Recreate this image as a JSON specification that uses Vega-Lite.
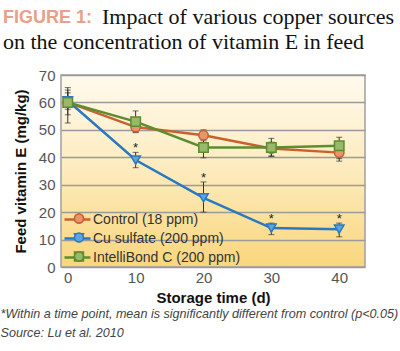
{
  "$schema": "https://vega.github.io/schema/vega-lite/v6.json",
  "autosize": "none",
  "width": 304,
  "height": 192,
  "padding": {"left": 61, "top": 75, "right": 35, "bottom": 84},
  "background": "white",
  "config": {
    "view": {
      "stroke": "#a0a0a0",
      "strokeWidth": 1.5,
      "fill": {"gradient": "linear", "x1": 0, "y1": 0, "x2": 0, "y2": 1,
        "stops": [{"offset": 0, "color": "#fffaee"}, {"offset": 0.5, "color": "#fdebbd"}, {"offset": 1, "color": "#f9d67c"}]}
    },
    "font": "Liberation Sans"
  },
  "title": {
    "text": "FIGURE 1:",
    "subtitle": ["\u200b\u00a0\u00a0\u00a0\u00a0\u00a0\u00a0\u00a0\u00a0\u00a0\u00a0\u00a0\u00a0\u00a0\u00a0\u00a0\u00a0\u00a0\u00a0Impact of various copper sources", "on the concentration of vitamin E in feed"],
    "anchor": "start",
    "frame": "group",
    "dx": -58,
    "offset": 12,
    "font": "Liberation Sans",
    "fontSize": 18,
    "fontWeight": "bold",
    "color": "#e8a088",
    "subtitleFont": "Liberation Serif",
    "subtitleFontSize": 22,
    "subtitleColor": "#111111",
    "subtitleLineHeight": 25,
    "subtitlePadding": -20
  },
  "data": {
    "values": [
      {"series": "Control (18 ppm)", "day": 0, "value": 60, "lo": 55.5, "hi": 64.5, "star": false},
      {"series": "Control (18 ppm)", "day": 10, "value": 51, "lo": 49, "hi": 53, "star": false},
      {"series": "Control (18 ppm)", "day": 20, "value": 48, "lo": 46, "hi": 50, "star": false},
      {"series": "Control (18 ppm)", "day": 30, "value": 43.2, "lo": 40.5, "hi": 45.5, "star": false},
      {"series": "Control (18 ppm)", "day": 40, "value": 41.7, "lo": 38.6, "hi": 44, "star": false},
      {"series": "Cu sulfate (200 ppm)", "day": 0, "value": 60.6, "lo": 57.5, "hi": 65.4, "star": false},
      {"series": "Cu sulfate (200 ppm)", "day": 10, "value": 39, "lo": 36.2, "hi": 41.8, "star": true},
      {"series": "Cu sulfate (200 ppm)", "day": 20, "value": 25.2, "lo": 20, "hi": 31, "star": true},
      {"series": "Cu sulfate (200 ppm)", "day": 30, "value": 14.2, "lo": 11.8, "hi": 16, "star": true},
      {"series": "Cu sulfate (200 ppm)", "day": 40, "value": 13.8, "lo": 11, "hi": 16, "star": true},
      {"series": "IntelliBond C (200 ppm)", "day": 0, "value": 60, "lo": 52.5, "hi": 63.5, "star": false},
      {"series": "IntelliBond C (200 ppm)", "day": 10, "value": 53, "lo": 49.2, "hi": 56.9, "star": false},
      {"series": "IntelliBond C (200 ppm)", "day": 20, "value": 43.6, "lo": 39.8, "hi": 47.2, "star": false},
      {"series": "IntelliBond C (200 ppm)", "day": 30, "value": 43.6, "lo": 40.3, "hi": 46.9, "star": false},
      {"series": "IntelliBond C (200 ppm)", "day": 40, "value": 44.2, "lo": 39.5, "hi": 47.3, "star": false}
    ]
  },
  "resolve": {"axis": {"x": "independent", "y": "independent"}},
  "layer": [
    {
      "mark": {"type": "line", "strokeWidth": 2.5},
      "encoding": {
        "x": {"field": "day", "type": "quantitative",
          "scale": {"domain": [-1, 43.8], "nice": false, "zero": false},
          "axis": {"values": [0, 10, 20, 30, 40], "grid": false, "ticks": false, "domain": false,
            "labelFontSize": 15, "labelColor": "#555555", "labelPadding": 3,
            "title": "Storage time (d)", "titleFontSize": 15, "titleFontWeight": "bold", "titleColor": "#111111", "titlePadding": 5}},
        "y": {"field": "value", "type": "quantitative",
          "scale": {"domain": [0, 70], "nice": false},
          "axis": {"values": [0, 10, 20, 30, 40, 50, 60, 70], "grid": true, "gridColor": "#9a9a9a", "gridWidth": 1.5, "gridOpacity": 1,
            "labelOverlap": false, "ticks": false, "domain": false, "labelFontSize": 15, "labelColor": "#555555", "labelPadding": 6,
            "title": "Feed vitamin E (mg/kg)", "titleFontSize": 15, "titleFontWeight": "bold", "titleColor": "#111111", "titlePadding": 10}},
        "color": {"field": "series", "type": "nominal",
          "scale": {"domain": ["Control (18 ppm)", "Cu sulfate (200 ppm)", "IntelliBond C (200 ppm)"], "range": ["#c9602e", "#2a78c0", "#5e8c2e"]},
          "legend": {"orient": "bottom-left", "offset": 2, "padding": 0, "title": null, "symbolType": "stroke", "symbolSize": 676,
            "symbolStrokeWidth": 2.5, "clipHeight": 15, "rowPadding": 4, "labelFontSize": 14, "labelColor": "#333333", "labelOffset": 1}}
      }
    },
    {
      "mark": {"type": "errorbar", "ticks": {"size": 6}, "color": "#333333", "thickness": 1},
      "encoding": {
        "x": {"field": "day", "type": "quantitative", "axis": null},
        "y": {"field": "lo", "type": "quantitative", "axis": null},
        "y2": {"field": "hi"}
      }
    },
    {
      "mark": {"type": "point", "filled": false, "size": 90, "strokeWidth": 1.5, "opacity": 1},
      "encoding": {
        "x": {"field": "day", "type": "quantitative", "axis": null},
        "y": {"field": "value", "type": "quantitative", "axis": null},
        "shape": {"field": "series", "type": "nominal",
          "scale": {"domain": ["Control (18 ppm)", "Cu sulfate (200 ppm)", "IntelliBond C (200 ppm)"], "range": ["circle", "triangle-down", "square"]},
          "legend": {"orient": "none", "legendX": 11, "legendY": 136, "padding": 0, "title": null, "symbolSize": 80, "clipHeight": 15, "rowPadding": 4,
            "labelExpr": "''", "labelOpacity": 0, "labelFontSize": 14}},
        "fill": {"field": "series", "type": "nominal",
          "scale": {"domain": ["Control (18 ppm)", "Cu sulfate (200 ppm)", "IntelliBond C (200 ppm)"], "range": ["#e8956c", "#5aa5e0", "#98b86a"]},
          "legend": {"orient": "none", "legendX": 11, "legendY": 136, "padding": 0, "title": null, "symbolSize": 80, "clipHeight": 15, "rowPadding": 4,
            "labelExpr": "''", "labelOpacity": 0, "labelFontSize": 14}},
        "stroke": {"field": "series", "type": "nominal",
          "scale": {"domain": ["Control (18 ppm)", "Cu sulfate (200 ppm)", "IntelliBond C (200 ppm)"], "range": ["#c9602e", "#2a78c0", "#5e8c2e"]},
          "legend": null}
      }
    },
    {
      "transform": [{"filter": "datum.star"}],
      "mark": {"type": "text", "text": "*", "fontSize": 13, "baseline": "alphabetic", "dy": 0, "color": "#222222"},
      "encoding": {
        "x": {"field": "day", "type": "quantitative",
          "axis": {"orient": "bottom", "labels": false, "ticks": false, "domain": false, "grid": false,
            "title": ["*Within a time point, mean is significantly different from control (p<0.05)", "Source: Lu et al. 2010"],
            "titleFontSize": 12.6, "titleFontStyle": "italic", "titleFontWeight": "normal", "titleColor": "#444444",
            "titleAnchor": "start", "titleAlign": "left", "titleBaseline": "alphabetic", "titleX": -61, "titleY": 50, "titleLineHeight": 19}},
        "y": {"field": "hi", "type": "quantitative", "axis": null}
      }
    }
  ]
}
